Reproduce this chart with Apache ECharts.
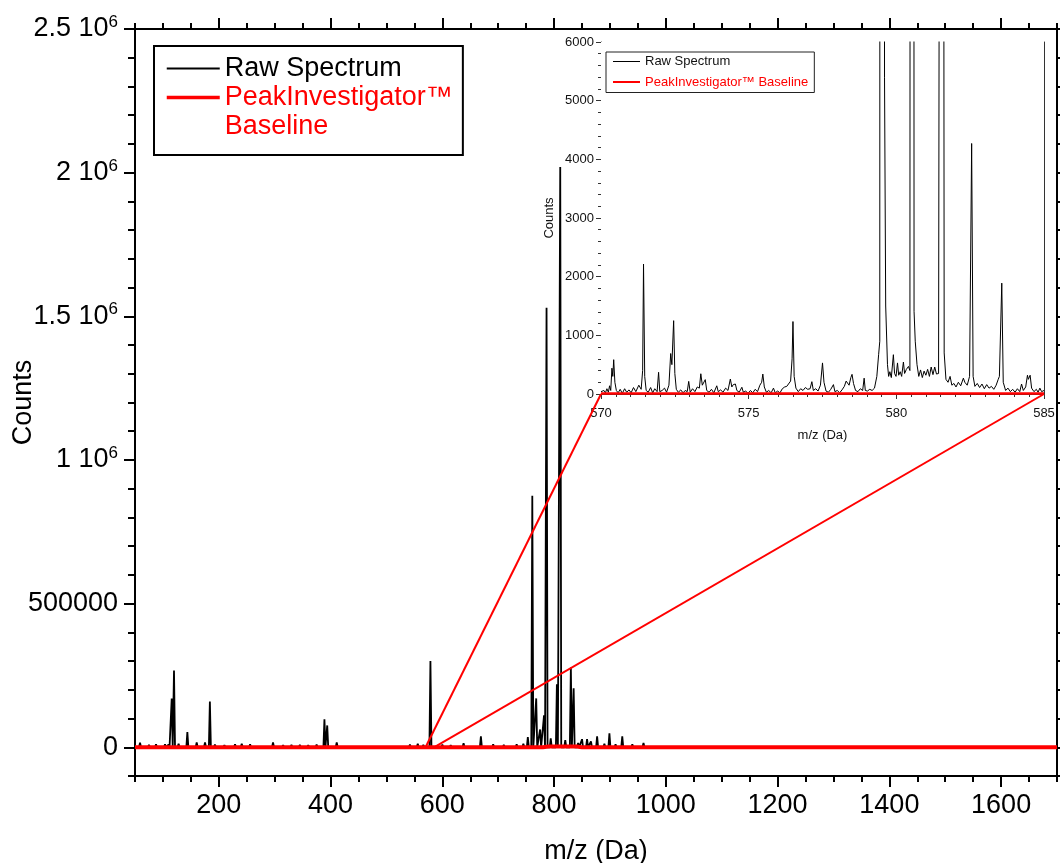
<!DOCTYPE html>
<html>
<head>
<meta charset="utf-8">
<title>Raw spectrum and PeakInvestigator baseline</title>
<script src="https://cdn.jsdelivr.net/npm/echarts@6/dist/echarts.min.js"></script>
<style>
  html, body { margin: 0; padding: 0; background: #fff; }
  #chart { width: 1060px; height: 863px; }
</style>
</head>
<body>
<div id="chart"></div>
<script>
// full range spectrum: peak positions (m/z) and heights (counts)
const peakMz = [59, 75, 87.6, 103.7, 110, 115.7, 119.8, 128, 143.7, 160.4, 175.3, 184, 193, 210, 229, 241, 256, 270,
  297, 315, 330, 345, 360, 375, 389, 394, 411, 428, 481, 523, 542, 556, 566, 578.7, 600, 615, 638, 669, 691, 710,
  733, 745, 753, 761, 768, 775, 782, 786.5, 794, 805, 811, 820, 830, 835, 843, 850, 859, 866, 877, 890, 899, 910,
  922, 940, 960, 980, 1002, 1025, 1196];
const peakCounts = [16000, 8000, 10000, 10000, 9000, 170000, 267000, 12000, 53000, 17000, 17000, 159000, 9000, 7000,
  10000, 12000, 10000, 6000, 17000, 7000, 8000, 8000, 7000, 9000, 97000, 76000, 17000, 6000, 5000, 6000, 9000, 12000,
  8000, 300000, 9000, 7000, 14000, 38000, 10000, 8000, 10000, 12000, 35000, 875000, 170000, 62000, 111000, 1530000,
  31000, 219000, 2020000, 25000, 278000, 205000, 15000, 28000, 28000, 20000, 38000, 12000, 49000, 10000, 38000,
  10000, 15000, 6000, 5000, 3000, 3000];

// PeakInvestigator baseline over the full range
const baseMz = [50, 780, 790, 840, 850, 1700];
const baseCounts = [0, 0, 3000, 3000, 0, 0];

// zoomed window 570-585 Da: [m/z, counts]
const insetPoints = [
  [570.00, 40], [570.05, 10], [570.10, 60], [570.15, 20], [570.20, 90], [570.25, 30], [570.29, 140], [570.33, 60],
  [570.37, 440], [570.40, 300], [570.43, 585], [570.47, 200], [570.52, 60], [570.58, 20], [570.65, 80], [570.72, 10],
  [570.80, 90], [570.87, 30], [570.95, 70], [571.02, 20], [571.10, 110], [571.18, 40], [571.28, 150], [571.36, 80],
  [571.41, 400], [571.44, 2215], [571.48, 300], [571.53, 60], [571.60, 30], [571.68, 110], [571.75, 20], [571.82, 90],
  [571.90, 40], [571.95, 370], [571.99, 40], [572.07, 60], [572.15, 100], [572.22, 30], [572.30, 150], [572.36, 690],
  [572.40, 500], [572.46, 1250], [572.50, 350], [572.55, 80], [572.62, 30], [572.70, 70], [572.78, 20], [572.85, 60],
  [572.92, 40], [572.97, 215], [573.02, 30], [573.10, 90], [573.18, 40], [573.26, 120], [573.33, 100], [573.38, 345],
  [573.43, 150], [573.48, 120], [573.53, 245], [573.58, 60], [573.66, 30], [573.74, 80], [573.82, 20], [573.92, 140],
  [573.97, 40], [574.05, 70], [574.13, 30], [574.22, 100], [574.30, 60], [574.38, 255], [574.43, 120], [574.48, 160],
  [574.55, 170], [574.60, 60], [574.68, 30], [574.77, 115], [574.82, 30], [574.90, 50], [574.98, 10], [575.06, 60],
  [575.14, 20], [575.22, 80], [575.30, 40], [575.38, 150], [575.44, 200], [575.48, 340], [575.53, 120], [575.60, 30],
  [575.68, 60], [575.76, 20], [575.84, 100], [575.90, 20], [575.98, 50], [576.06, 20], [576.14, 90], [576.22, 120],
  [576.29, 130], [576.35, 110], [576.42, 220], [576.47, 600], [576.50, 1235], [576.54, 300], [576.60, 100],
  [576.68, 40], [576.76, 90], [576.84, 60], [576.92, 110], [577.00, 80], [577.08, 90], [577.14, 210], [577.19, 60],
  [577.27, 90], [577.35, 50], [577.43, 150], [577.50, 530], [577.55, 200], [577.62, 50], [577.70, 30], [577.78, 80],
  [577.87, 160], [577.92, 40], [578.00, 60], [578.08, 20], [578.16, 70], [578.24, 130], [578.30, 220], [578.35, 245],
  [578.40, 150], [578.46, 280], [578.50, 335], [578.55, 180], [578.62, 60], [578.70, 40], [578.78, 90], [578.86, 60],
  [578.91, 270], [578.95, 60], [579.02, 50], [579.10, 80], [579.18, 60], [579.26, 100], [579.34, 300], [579.40, 670],
  [579.44, 900], [579.52, 300000], [579.60, 5400], [579.64, 1500], [579.70, 500], [579.74, 300], [579.78, 380],
  [579.83, 280], [579.90, 670], [579.94, 350], [579.99, 300], [580.04, 530], [580.08, 320], [580.13, 380],
  [580.18, 300], [580.24, 545], [580.28, 350], [580.34, 420], [580.41, 470], [580.46, 400], [580.53, 120000],
  [580.60, 1410], [580.64, 900], [580.70, 500], [580.76, 300], [580.82, 410], [580.88, 280], [580.94, 390],
  [581.00, 320], [581.06, 420], [581.12, 300], [581.18, 460], [581.24, 330], [581.30, 460], [581.36, 340],
  [581.43, 350], [581.55, 40000], [581.62, 700], [581.68, 250], [581.75, 200], [581.82, 300], [581.88, 150],
  [581.95, 180], [582.02, 120], [582.10, 200], [582.18, 140], [582.27, 270], [582.32, 200], [582.40, 150],
  [582.48, 300], [582.55, 4270], [582.60, 300], [582.66, 130], [582.74, 180], [582.82, 110], [582.90, 170],
  [582.98, 90], [583.06, 160], [583.14, 100], [583.22, 130], [583.30, 80], [583.38, 150], [583.45, 250],
  [583.49, 300], [583.57, 1890], [583.62, 200], [583.70, 60], [583.78, 100], [583.86, 40], [583.94, 80],
  [584.02, 30], [584.10, 90], [584.18, 40], [584.24, 170], [584.30, 60], [584.38, 120], [584.44, 320],
  [584.47, 250], [584.53, 320], [584.58, 100], [584.66, 40], [584.74, 80], [584.80, 30], [584.86, 100],
  [584.92, 40], [585.00, 60]
];
const insetBaseMz = [570, 585];
const insetBaseCounts = [10, 10];

// axis ticks
const mzMajor = [200, 400, 600, 800, 1000, 1200, 1400, 1600];
const countsMajor = [0, 500000, 1000000, 1500000, 2000000, 2500000];
const zoomFrom = 570;
const zoomTo = 585;

const rawName = 'Raw Spectrum';
const baseName = 'PeakInvestigator™ Baseline';
const font = '"Liberation Sans", Arial, Helvetica, sans-serif';

const stickHalf = 1.8;
const mainLine = [[50, 0]];
peakMz.forEach((mz, i) => {
  mainLine.push([mz - stickHalf, 0], [mz, peakCounts[i]], [mz + stickHalf, 0]);
});
mainLine.push([1700, 0]);
const mainBase = baseMz.map((mz, i) => [mz, baseCounts[i]]);
const insetBase = insetBaseMz.map((mz, i) => [mz, insetBaseCounts[i]]);

const chart = echarts.init(document.getElementById('chart'));

const plain = function (v) { return String(v); };
const mainX = { gridIndex: 0, type: 'value', min: 50, max: 1700, splitLine: { show: false } };
const mainY = { gridIndex: 0, type: 'value', min: -100000, max: 2500000, splitLine: { show: false } };
const blackAxis = { onZero: false, lineStyle: { color: '#000', width: 2 } };
const insetAxis = { onZero: false, lineStyle: { color: '#333', width: 1 } };

const option = {
  animation: false,
  textStyle: { fontFamily: font },
  grid: [
    { left: 135, top: 29, width: 922, height: 747, outerBoundsMode: 'none', containLabel: false },
    {
      left: 601, top: 42, width: 443, height: 352, outerBoundsMode: 'none', containLabel: false,
      show: true, backgroundColor: '#fff', borderWidth: 0, z: 5
    }
  ],
  xAxis: [
    Object.assign({}, mainX, {
      position: 'bottom', axisLine: blackAxis,
      axisTick: { customValues: mzMajor, length: 11, lineStyle: { color: '#000', width: 2 } },
      axisLabel: { customValues: mzMajor, fontSize: 27, color: '#000', margin: 16, formatter: plain },
      name: 'm/z (Da)', nameLocation: 'middle', nameGap: 62,
      nameTextStyle: { fontSize: 27, color: '#000' }
    }),
    Object.assign({}, mainX, {
      position: 'bottom', interval: 50, axisLine: blackAxis,
      axisTick: { length: 6, lineStyle: { color: '#000', width: 2 } }, axisLabel: { show: false }
    }),
    Object.assign({}, mainX, {
      position: 'top', axisLine: blackAxis,
      axisTick: { customValues: mzMajor, length: 11, lineStyle: { color: '#000', width: 2 } },
      axisLabel: { show: false }
    }),
    Object.assign({}, mainX, {
      position: 'top', interval: 50, axisLine: blackAxis,
      axisTick: { length: 6, lineStyle: { color: '#000', width: 2 } }, axisLabel: { show: false }
    }),
    {
      gridIndex: 1, type: 'value', min: zoomFrom, max: zoomTo, interval: 5, position: 'bottom',
      splitLine: { show: false }, axisLine: insetAxis,
      axisTick: { length: 5, lineStyle: { color: '#333' } },
      minorTick: { show: true, splitNumber: 10, length: 3, lineStyle: { color: '#333' } },
      axisLabel: { fontSize: 13, color: '#111', margin: 13, formatter: plain },
      name: 'm/z (Da)', nameLocation: 'middle', nameGap: 35,
      nameTextStyle: { fontSize: 13, color: '#111' }
    },
    {
      gridIndex: 1, type: 'value', min: zoomFrom, max: zoomTo, interval: 5, position: 'top',
      splitLine: { show: false }, axisLine: insetAxis,
      axisTick: { inside: true, length: 5, lineStyle: { color: '#333' } },
      minorTick: { show: true, splitNumber: 10, length: 3, lineStyle: { color: '#333' } },
      axisLabel: { show: false }
    }
  ],
  yAxis: [
    Object.assign({}, mainY, {
      position: 'left', axisLine: blackAxis,
      axisTick: { customValues: countsMajor, length: 11, lineStyle: { color: '#000', width: 2 } },
      axisLabel: {
        customValues: countsMajor, fontSize: 27, color: '#000', margin: 17,
        formatter: function (v) {
          if (v === 0 || v === 500000) return String(v);
          return '{n|' + (v / 1000000) + ' 10}{s|6}';
        },
        rich: {
          n: { fontSize: 27, lineHeight: 30, color: '#000', fontFamily: font },
          s: { fontSize: 17, lineHeight: 17, verticalAlign: 'top', color: '#000', fontFamily: font }
        }
      },
      name: 'Counts', nameLocation: 'middle', nameGap: 98, nameMoveOverlap: false,
      nameTextStyle: { fontSize: 27, color: '#000' }
    }),
    Object.assign({}, mainY, {
      position: 'left', interval: 100000, axisLine: blackAxis,
      axisTick: { length: 7, lineStyle: { color: '#000', width: 2 } }, axisLabel: { show: false }
    }),
    Object.assign({}, mainY, {
      position: 'right', interval: 100000, axisLine: blackAxis,
      axisTick: { length: 7, lineStyle: { color: '#000', width: 2 } }, axisLabel: { show: false }
    }),
    {
      gridIndex: 1, type: 'value', min: 0, max: 6000, interval: 1000, position: 'left',
      splitLine: { show: false }, axisLine: insetAxis,
      axisTick: { length: 5, lineStyle: { color: '#333' } },
      minorTick: { show: true, splitNumber: 5, length: 3, lineStyle: { color: '#333' } },
      axisLabel: { fontSize: 13, color: '#111', margin: 7, formatter: plain },
      name: 'Counts', nameLocation: 'middle', nameGap: 45,
      nameTextStyle: { fontSize: 13, color: '#111' }
    },
    {
      gridIndex: 1, type: 'value', min: 0, max: 6000, interval: 1000, position: 'right',
      splitLine: { show: false }, axisLine: insetAxis,
      axisTick: { inside: true, length: 5, lineStyle: { color: '#333' } },
      minorTick: { show: true, splitNumber: 5, length: 3, lineStyle: { color: '#333' } },
      axisLabel: { show: false }
    }
  ],
  legend: [
    {
      left: 154, top: 46, orient: 'vertical', itemGap: -29, itemWidth: 53, itemHeight: 2,
      padding: [8, 10, 14, 11], borderColor: '#000', borderWidth: 2, backgroundColor: '#fff',
      selectedMode: false, itemStyle: { opacity: 0 },
      textStyle: { fontSize: 27, lineHeight: 29, color: '#000', fontFamily: font },
      formatter: function (name) {
        return name === baseName ? ' \nPeakInvestigator™\nBaseline' : name;
      },
      data: [
        { name: rawName, lineStyle: { color: '#000', width: 2 } },
        { name: baseName, lineStyle: { color: '#ff0000', width: 3.5 }, textStyle: { color: '#ff0000' } }
      ]
    },
    {
      left: 606, top: 52, orient: 'vertical', itemGap: 5.5, itemWidth: 27, itemHeight: 2,
      padding: [2, 6, 3, 6], borderColor: '#222', borderWidth: 1, backgroundColor: '#fff', z: 8,
      selectedMode: false, itemStyle: { opacity: 0 },
      textStyle: { fontSize: 13, lineHeight: 15, color: '#111', fontFamily: font },
      data: [
        { name: rawName, lineStyle: { color: '#000', width: 1 } },
        { name: baseName, lineStyle: { color: '#ff0000', width: 2 }, textStyle: { color: '#ff0000' } }
      ]
    }
  ],
  series: [
    {
      name: rawName, type: 'line', xAxisIndex: 0, yAxisIndex: 0, data: mainLine,
      symbol: 'none', lineStyle: { color: '#000', width: 1.8 }, itemStyle: { color: '#000' }, z: 2
    },
    {
      name: baseName, type: 'line', xAxisIndex: 0, yAxisIndex: 0, data: mainBase,
      symbol: 'none', lineStyle: { color: '#ff0000', width: 4 }, itemStyle: { color: '#ff0000' }, z: 3
    },
    {
      name: rawName, type: 'line', xAxisIndex: 4, yAxisIndex: 3, data: insetPoints,
      symbol: 'none', lineStyle: { color: '#000', width: 1 }, itemStyle: { color: '#000' }, z: 6
    },
    {
      name: baseName, type: 'line', xAxisIndex: 4, yAxisIndex: 3, data: insetBase,
      symbol: 'none', lineStyle: { color: '#ff0000', width: 2.5 }, itemStyle: { color: '#ff0000' }, z: 7
    }
  ]
};

chart.setOption(option);

// red connectors from the zoomed window on the main axis to the inset corners
const lineEnds = [zoomFrom, zoomTo].map(function (mz) {
  return [
    chart.convertToPixel({ xAxisIndex: 0, yAxisIndex: 0 }, [mz, 0]),
    chart.convertToPixel({ xAxisIndex: 4, yAxisIndex: 3 }, [mz, 0])
  ];
});
chart.setOption({
  graphic: lineEnds.map(function (pair) {
    return {
      type: 'line', z: 4, silent: true,
      shape: { x1: pair[0][0], y1: pair[0][1], x2: pair[1][0], y2: pair[1][1] },
      style: { stroke: '#ff0000', lineWidth: 2 }
    };
  })
});
</script>
</body>
</html>
